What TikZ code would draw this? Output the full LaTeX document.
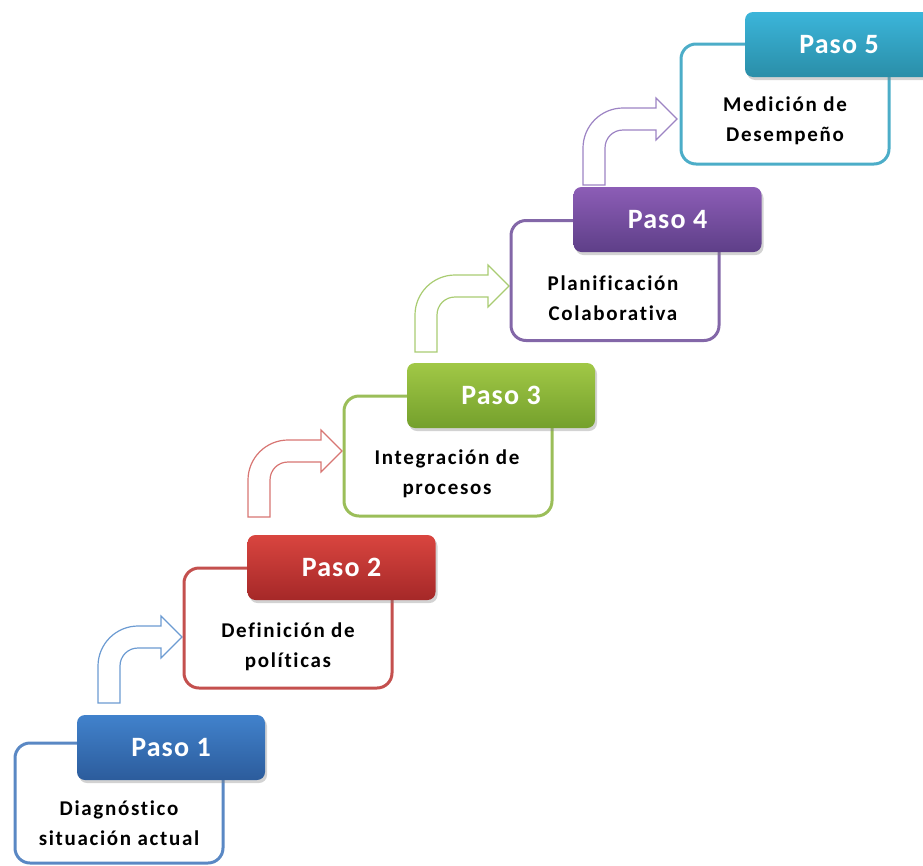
\documentclass[tikz,border=0pt]{standalone}
\usepackage{fontspec}
\setmainfont{Carlito}
\newfontfamily\headfont[LetterSpace=4,Ligatures=NoCommon]{Carlito}
\newfontfamily\bodyfont[LetterSpace=8,Ligatures=NoCommon]{Carlito}
\usetikzlibrary{shadows}

% theme colours: outline, header top, header bottom, arrow line
\definecolor{blueline}{HTML}{5A88C4}
\definecolor{bluetop}{HTML}{4182CC}
\definecolor{bluebot}{HTML}{2C5C9C}
\definecolor{bluearrow}{HTML}{6C9BD2}
\definecolor{redline}{HTML}{C4504E}
\definecolor{redtop}{HTML}{D9453F}
\definecolor{redbot}{HTML}{A52828}
\definecolor{redarrow}{HTML}{D87673}
\definecolor{greenline}{HTML}{9BBE59}
\definecolor{greentop}{HTML}{A1C846}
\definecolor{greenbot}{HTML}{74A02C}
\definecolor{greenarrow}{HTML}{A9CC72}
\definecolor{purpleline}{HTML}{8367A8}
\definecolor{purpletop}{HTML}{8C5DB6}
\definecolor{purplebot}{HTML}{5E3F88}
\definecolor{purplearrow}{HTML}{9D84C4}
\definecolor{tealline}{HTML}{4CADC8}
\definecolor{tealtop}{HTML}{3BB5DA}
\definecolor{tealbot}{HTML}{2A8EA8}

\tikzset{
  outlinebox/.style={draw=#1, line width=3pt, rounded corners=15pt,
    minimum width=208pt, minimum height=120pt, fill=white},
  headerbox/.style n args={2}{rounded corners=8pt, minimum width=188pt,
    minimum height=65pt, top color=#1, bottom color=#2,
    drop shadow={shadow xshift=2pt, shadow yshift=-3pt, opacity=0.35},
    text=white, font=\headfont\fontsize{28}{30}\selectfont\bfseries},
  bodytext/.style={align=center, text=black,
    font=\bodyfont\fontsize{21}{30}\selectfont\bfseries},
  arrowline/.style={draw=#1, line width=1.2pt, fill=white, line join=miter},
}

% bent block arrow: colour, stem bottom-left x, stem bottom y, tip x
\newcommand\bentarrow[4]{%
  \draw[arrowline=#1] (#2,#3) -- (#2,#3-37)
    .. controls (#2,#3-59) and (#2+18,#3-77) .. (#2+40,#3-77)
    -- (#4-21,#3-77) -- (#4-21,#3-87) -- (#4,#3-66) -- (#4-21,#3-45)
    -- (#4-21,#3-55) -- (#2+40,#3-55)
    .. controls (#2+30,#3-55) and (#2+22,#3-47) .. (#2+22,#3-37)
    -- (#2+22,#3) -- cycle;}

\begin{document}
\begin{tikzpicture}[x=1pt, y=-1pt]
\useasboundingbox (0,0) rectangle (923,865);
\clip (0,0) rectangle (923,865);

% connecting arrows
\bentarrow{bluearrow}{98}{703}{182}
\bentarrow{redarrow}{248}{517}{342}
\bentarrow{greenarrow}{415}{352}{509}
\bentarrow{purplearrow}{583}{185}{677}

% step 1
\node[outlinebox=blueline] (box1) at (119,803) {};
\node[headerbox={bluetop}{bluebot}] (head1) at (171,747.5) {Paso 1};
\node[bodytext] (text1) at (119,823) {Diagnóstico\\situación actual};

% step 2
\node[outlinebox=redline] (box2) at (288,628) {};
\node[headerbox={redtop}{redbot}] (head2) at (341.5,567.5) {Paso 2};
\node[bodytext] (text2) at (288,647) {Definición de\\políticas};

% step 3
\node[outlinebox=greenline] (box3) at (448,456) {};
\node[headerbox={greentop}{greenbot}] (head3) at (501,395.5) {Paso 3};
\node[bodytext] (text3) at (447,474) {Integración de\\procesos};

% step 4
\node[outlinebox=purpleline] (box4) at (615,280.5) {};
\node[headerbox={purpletop}{purplebot}] (head4) at (667.5,219.5) {Paso 4};
\node[bodytext] (text4) at (613,298) {Planificación\\Colaborativa};

% step 5
\node[outlinebox=tealline] (box5) at (785,104) {};
\node[headerbox={tealtop}{tealbot}] (head5) at (839,44.5) {Paso 5};
\node[bodytext] (text5) at (785,121) {Medición de\\Desempeño};
\end{tikzpicture}
\end{document}
